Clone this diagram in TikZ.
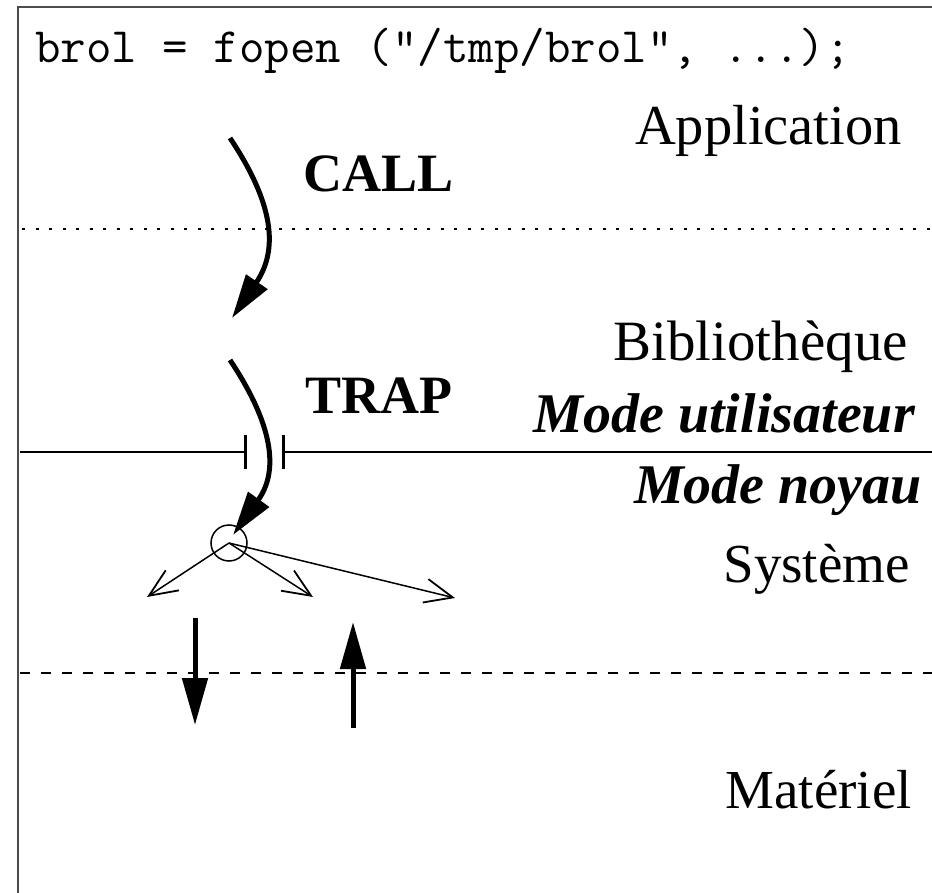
\documentclass[tikz,border=0pt]{standalone}
\usepackage{fontspec}
\setmainfont{Liberation Serif}
\usetikzlibrary{arrows.meta}
\begin{document}
\begin{tikzpicture}[x=1pt,y=-1pt,
  frame/.style={draw=black!70,line width=2pt},
  lbl/.style={inner sep=0pt,anchor=base east,font=\fontsize{55}{60}\selectfont},
  bold/.style={inner sep=0pt,anchor=base west,font=\fontsize{54}{60}\selectfont\bfseries},
  modelbl/.style={inner sep=0pt,anchor=base east,font=\fontsize{56}{60}\selectfont\bfseries\itshape},
  bigarrow/.style={line width=5pt,-{Triangle[length=44pt,width=25pt]}},
  thinarrow/.style={line width=1.5pt,-{Straight Barb[length=28pt,width=24pt,line width=1.8pt]}},
  hwarrow/.style={line width=5pt,-{Triangle[length=47pt,width=25pt]}}
]
\useasboundingbox (0,0) rectangle (932,893);
\fill[white] (0,0) rectangle (932,893);
% frame
\draw[frame] (18,893) -- (18,7) -- (932,7);
% layer separators
\coordinate (dotL) at (22,229);
\coordinate (dotR) at (932,229);
\draw[line width=2pt,dash pattern=on 3pt off 10.5pt] (dotL) -- (dotR);
\coordinate (dashL) at (20,673);
\coordinate (dashR) at (932,673);
\draw[line width=1.7pt,dash pattern=on 10pt off 11pt] (dashL) -- (dashR);
\coordinate (solL) at (20,452);
\coordinate (solM1) at (247,452);
\coordinate (solM2) at (282,452);
\coordinate (solR) at (932,452);
\draw[line width=2.8pt,-{Bar[width=34pt,line width=2.8pt]}] (solL) -- (solM1);
\draw[line width=2.8pt,{Bar[width=34pt,line width=2.8pt]}-] (solM2) -- (solR);
% texts
\node[inner sep=0pt,anchor=base west,font=\fontsize{49.5}{56}\selectfont\ttfamily] (code) at (35,63) {brol = fopen ("/tmp/brol", ...);};
\node[lbl,font=\fontsize{56.5}{62}\selectfont] (app) at (902,145) {Application};
\node[bold] (call) at (303,192) {CALL};
\node[lbl,font=\fontsize{57}{62}\selectfont] (bib) at (908,360) {Bibliothèque};
\node[bold] (trap) at (305,413) {TRAP};
\node[modelbl] (mu) at (915,432) {Mode utilisateur};
\node[modelbl] (mn) at (922,503) {Mode noyau};
\node[lbl] (sys) at (910,582) {Système};
\node[lbl] (mat) at (912,808) {Matériel};
% call arrow
\coordinate (c0) at (230,138);
\coordinate (c1) at (232,318);
\draw[bigarrow] (c0) .. controls (268,195) and (282,245) .. (c1);
% trap arrow
\coordinate (t0) at (230,360);
\coordinate (t1) at (233,535);
\draw[bigarrow] (t0) .. controls (268,417) and (282,467) .. (t1);
% dispatch circle
\node[draw,circle,line width=1.5pt,minimum size=36pt,inner sep=0pt] (disp) at (229,543) {};
\coordinate (d1) at (147,597);
\coordinate (d2) at (313,597);
\coordinate (d3) at (455,598);
\draw[thinarrow] (disp.center) -- (d1);
\draw[thinarrow] (disp.center) -- (d2);
\draw[thinarrow] (disp.center) -- (d3);
% hardware arrows
\coordinate (h1a) at (195,618);
\coordinate (h1b) at (195,725);
\coordinate (h2a) at (353,728);
\coordinate (h2b) at (353,622);
\draw[hwarrow] (h1a) -- (h1b);
\draw[hwarrow] (h2a) -- (h2b);
\end{tikzpicture}
\end{document}
